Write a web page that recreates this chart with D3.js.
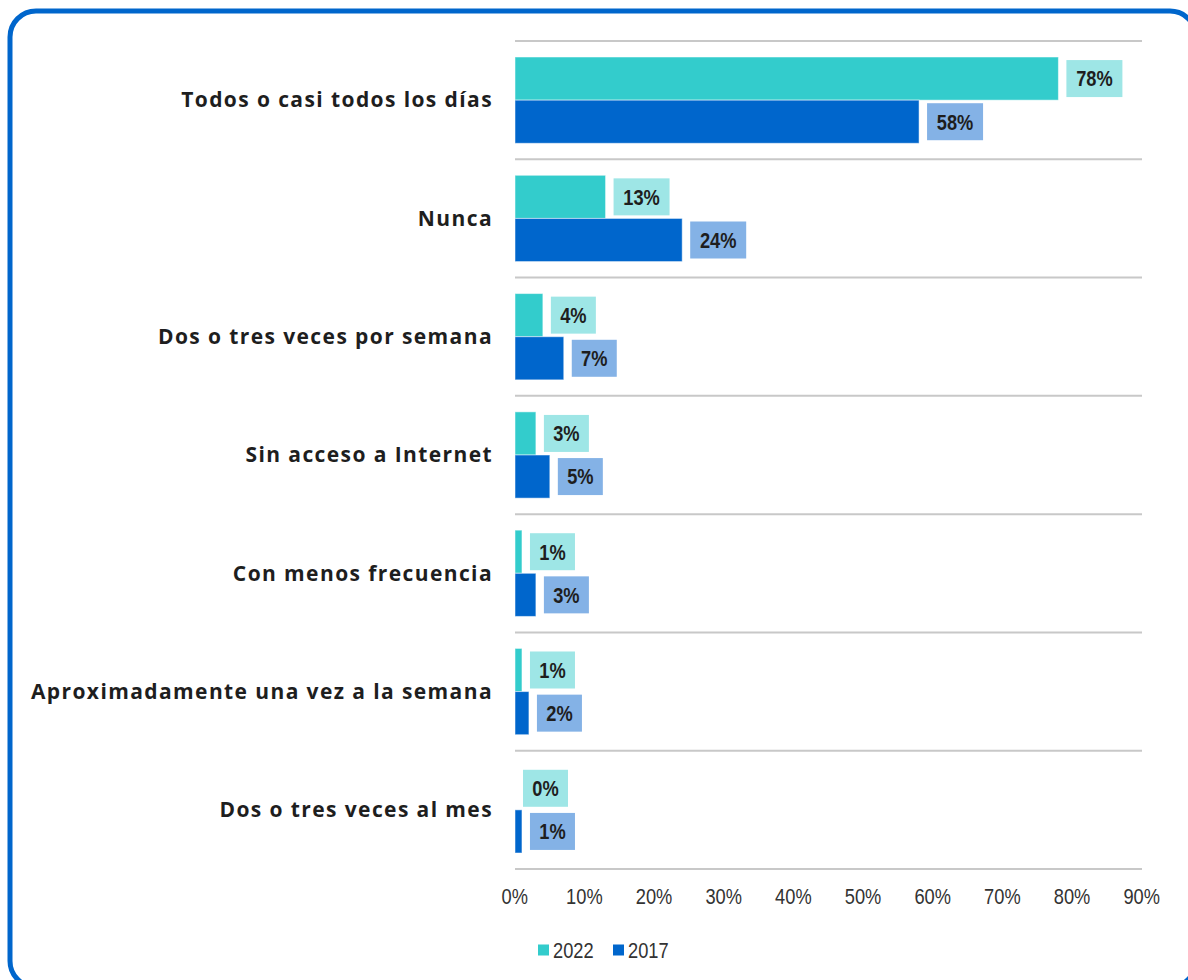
<!DOCTYPE html>
<html>
<meta charset="utf-8">
<title>Frecuencia de uso</title>
<style>
	body { margin: 0; background-color: #ffffff; }
	.cat { font: 700 21px "Open Sans", sans-serif; fill: #1e1e1e; letter-spacing: 1.4px; }
	.val { font: 700 22px "Liberation Sans", sans-serif; fill: #1e1e1e; }
	.tick text { font: 400 22px "Liberation Sans", sans-serif; fill: #333333; }
	.legend text { font: 400 22px "Liberation Sans", sans-serif; fill: #333333; }
</style>
<body>
<div id="chart"></div>
<script src="https://cdn.jsdelivr.net/npm/d3@7"></script>
<script>

	// Data
	var categories = ["Todos o casi todos los días", "Nunca", "Dos o tres veces por semana",
		"Sin acceso a Internet", "Con menos frecuencia", "Aproximadamente una vez a la semana",
		"Dos o tres veces al mes"];
	var series = ["2022", "2017"];
	var values2022 = [78, 13, 4, 3, 1, 1, 0];
	var values2017 = [58, 24, 7, 5, 3, 2, 1];
	var ticks = [0, 10, 20, 30, 40, 50, 60, 70, 80, 90];

	var barColors = { "2022": "#33cccc", "2017": "#0066cc" };
	var boxColors = { "2022": "#9ee6e6", "2017": "#84b2e6" };

	var W = 1188, H = 980;
	var margin = { top: 41, left: 515, right: 46, bottom: 111 },
		width = W - margin.left - margin.right,
		height = H - margin.top - margin.bottom;
	var narrow = "scale(0.83,1)";

	var svg = d3.select("#chart").append("svg")
		.attr("width", W)
		.attr("height", H);

	// Rounded blue frame
	svg.append("rect")
		.attr("x", 10).attr("y", 11)
		.attr("width", 1186).attr("height", 976)
		.attr("rx", 26).attr("ry", 26)
		.style("fill", "none")
		.style("stroke", "#0066cc")
		.style("stroke-width", 5);

	var g = svg.append("g")
		.attr("transform", "translate(" + margin.left + "," + margin.top + ")");

	var x = d3.scaleLinear().domain([0, 90]).range([0, width]);
	var y = d3.scaleBand().domain(categories).range([0, height]);
	var yInner = d3.scaleBand().domain(series).range([16, y.bandwidth() - 16]);

	// Grid lines between categories
	g.selectAll(".grid")
		.data(d3.range(categories.length + 1)).enter().append("line")
		.attr("class", "grid")
		.attr("x1", 0).attr("x2", width)
		.attr("y1", function (d) { return d * y.step(); })
		.attr("y2", function (d) { return d * y.step(); })
		.style("stroke", "#c8c8c8")
		.style("stroke-width", 2);

	// x axis
	var xAxis = d3.axisBottom(x)
		.tickValues(ticks)
		.tickSize(0)
		.tickPadding(19)
		.tickFormat(function (d) { return d + "%"; });
	var ax = g.append("g").attr("transform", "translate(0," + height + ")").call(xAxis);
	ax.select(".domain").remove();
	ax.selectAll(".tick text").attr("x", -1).attr("transform", narrow);

	// Category labels
	g.selectAll(".cat")
		.data(categories).enter().append("text")
		.attr("class", "cat")
		.attr("x", -22)
		.attr("y", function (d) { return y(d) + y.bandwidth() / 2; })
		.attr("dy", "0.35em")
		.attr("text-anchor", "end")
		.text(function (d) { return d; });

	// Bars and labels
	var rows = [];
	categories.forEach(function (c, i) {
		rows.push({ cat: c, s: "2022", v: values2022[i] });
		rows.push({ cat: c, s: "2017", v: values2017[i] });
	});

	g.selectAll(".bar")
		.data(rows.filter(function (d) { return d.v > 0; })).enter().append("rect")
		.attr("class", "bar")
		.attr("x", 0)
		.attr("y", function (d) { return y(d.cat) + yInner(d.s); })
		.attr("width", function (d) { return x(d.v); })
		.attr("height", yInner.bandwidth())
		.style("fill", function (d) { return barColors[d.s]; })
		.style("stroke", "#ffffff")
		.style("stroke-opacity", 0.5)
		.style("stroke-width", 1);

	var labels = g.selectAll(".lab")
		.data(rows).enter().append("g")
		.attr("class", "lab")
		.attr("transform", function (d) {
			return "translate(" + (x(d.v) + 8) + "," + (y(d.cat) + yInner(d.s) + yInner.bandwidth() / 2) + ")";
		});

	labels.append("rect")
		.attr("x", 0).attr("y", -18.5)
		.attr("height", 37)
		.attr("width", function (d) { return d.v >= 10 ? 56 : 45; })
		.style("fill", function (d) { return boxColors[d.s]; });

	labels.append("text")
		.attr("class", "val")
		.attr("transform", function (d) { return "translate(" + (d.v >= 10 ? 28 : 22.5) + ",0) " + narrow; })
		.attr("dy", "0.36em")
		.attr("text-anchor", "middle")
		.text(function (d) { return d.v + "%"; });

	// Legend
	var legend = svg.append("g").attr("class", "legend")
		.attr("transform", "translate(538,950)");
	var li = legend.selectAll("g").data(series).enter().append("g")
		.attr("transform", function (d, i) { return "translate(" + (i * 75) + ",0)"; });
	li.append("rect")
		.attr("x", 0).attr("y", -5.5)
		.attr("width", 11).attr("height", 11)
		.style("fill", function (d) { return barColors[d]; });
	li.append("text")
		.attr("transform", "translate(15,0) " + narrow)
		.attr("dy", "0.36em")
		.text(function (d) { return d; });

</script>
</body>
</html>
